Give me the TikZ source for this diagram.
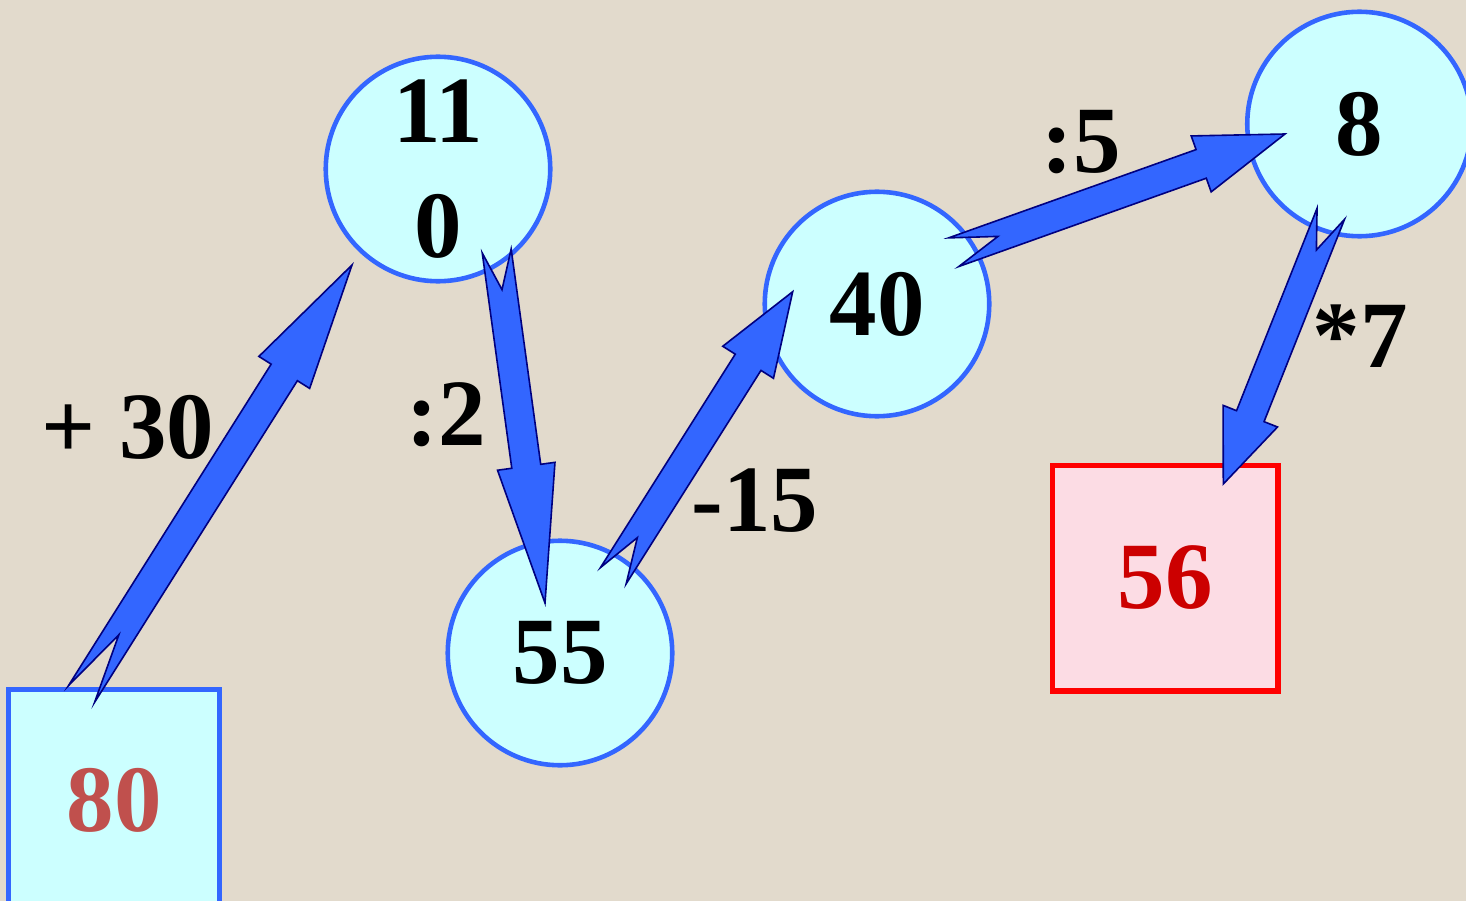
\documentclass[tikz,border=0pt]{standalone}
\usepackage{fontspec}
\setmainfont{Liberation Serif}
\usetikzlibrary{calc}
\definecolor{bg}{RGB}{226,218,204}
\definecolor{cfill}{RGB}{204,255,255}
\definecolor{cline}{RGB}{51,102,255}
\definecolor{afill}{RGB}{51,102,255}
\definecolor{aline}{RGB}{0,0,128}
\definecolor{pfill}{RGB}{252,220,228}
\definecolor{redA}{RGB}{192,80,77}
\definecolor{redB}{RGB}{204,0,0}
\newcommand{\notcharrow}[6]{% tail, tip, half shaft, half head, head length, notch depth
  \draw[arrowshape] ($(#1)!#3!90:(#2)$) -- ($(#2)!#5!(#1)!#3!-90:(#1)$) -- ($(#2)!#5!(#1)!#4!-90:(#1)$) -- (#2) -- ($(#2)!#5!(#1)!#4!90:(#1)$) -- ($(#2)!#5!(#1)!#3!90:(#1)$) -- ($(#1)!#3!-90:(#2)$) -- ($(#1)!#6!(#2)$) -- cycle;}
\tikzset{
  bigtext/.style={font=\fontsize{95}{115}\selectfont\bfseries},
  numcircle/.style={circle, draw=cline, fill=cfill, line width=4.6pt, minimum size=224.5pt, inner sep=0pt, bigtext, align=center},
  startbox/.style={rectangle, draw=cline, fill=cfill, line width=5pt, minimum width=211pt, minimum height=222pt, inner sep=0pt, bigtext, text=redA},
  endbox/.style={rectangle, draw=red, fill=pfill, line width=5.5pt, minimum width=225.5pt, minimum height=225.5pt, inner sep=0pt, bigtext, text=redB},
  oplabel/.style={bigtext, inner sep=0pt},
  arrowshape/.style={fill=afill, draw=aline, line width=1.6pt, line join=miter}
}
\begin{document}
\begin{tikzpicture}[x=1pt, y=-1pt]
\useasboundingbox (0,0) rectangle (1466,901);
\fill[bg] (0,0) rectangle (1466,901);
\clip (0,0) rectangle (1466,901);
% nodes
\node[startbox] (b80) at (114,800) {80};
\node[numcircle] (c110) at (438,169) {11\\0};
\node[numcircle] (c55) at (560,653) {55};
\node[numcircle] (c40) at (877,304) {40};
\node[numcircle] (c8) at (1359.5,124) {8};
\node[endbox] (b56) at (1165,578) {56};
% labels
\node[oplabel] (l1) at (128,427) {+ 30};
\node[oplabel] (l2) at (446,415) {:2};
\node[oplabel] (l3) at (755,501) {-15};
\node[oplabel] (l4) at (1081,142) {:5};
\node[oplabel] (l5) at (1360,336) {*7};
% arrow ends
\coordinate (t1) at (81.5,694);   \coordinate (h1) at (352,265);
\coordinate (t2) at (496.7,251);  \coordinate (h2) at (545,603);
\coordinate (t3) at (613.3,575.7);\coordinate (h3) at (792.7,291.7);
\coordinate (t4) at (953.7,252.2);\coordinate (h4) at (1285,134);
\coordinate (t5) at (1330.8,213.8);\coordinate (h5) at (1223.3,484);
\notcharrow{t1}{h1}{15.5pt}{30pt}{127pt}{70pt}
\notcharrow{t2}{h2}{14.6pt}{29pt}{138pt}{39pt}
\notcharrow{t3}{h3}{15.2pt}{30pt}{83.5pt}{45pt}
\notcharrow{t4}{h4}{15.2pt}{29.7pt}{89pt}{47pt}
\notcharrow{t5}{h5}{14.8pt}{29.3pt}{73pt}{39pt}
\end{tikzpicture}
\end{document}
